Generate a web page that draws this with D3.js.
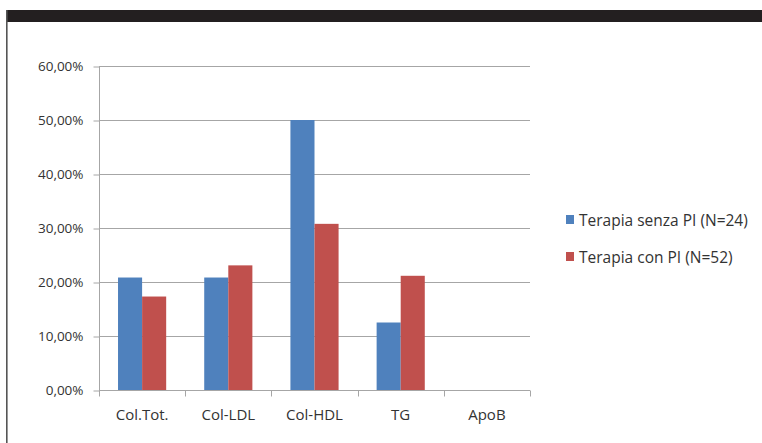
<!DOCTYPE html>
<html>
<head>
<meta charset="utf-8">
<script src="https://cdn.jsdelivr.net/npm/d3@7"></script>
<style>
  html, body { margin: 0; padding: 0; background: #fff; }
  svg { display: block; }
  text { font-family: "Open Sans", "Liberation Sans", sans-serif; fill: #333; }
</style>
</head>
<body>
<svg id="chart" width="762" height="443"></svg>
<script>
// Percentuali di pazienti con valori alterati, per parametro lipidico
const categories = ["Col.Tot.", "Col-LDL", "Col-HDL", "TG", "ApoB"];
const seriesNames = ["Terapia senza PI (N=24)", "Terapia con PI (N=52)"];
const senzaPI = [20.83, 20.83, 50.0, 12.5, 0];
const conPI = [17.31, 23.08, 30.77, 21.15, 0];
const yTicks = [0, 10, 20, 30, 40, 50, 60];
const colors = ["#4f81bd", "#c0504d"];

const svg = d3.select("#chart");

// frame: dark band on top, thin rule on the left
svg.append("rect").attr("x", 6).attr("y", 10).attr("width", 756).attr("height", 12).attr("fill", "#231f20");
svg.append("rect").attr("x", 6).attr("y", 10).attr("width", 1.6).attr("height", 433).attr("fill", "#555");

const plot = { left: 99, right: 530, top: 66, bottom: 390 };

const x = d3.scaleBand().domain(categories).range([plot.left, plot.right]).paddingInner(0).paddingOuter(0);
const y = d3.scaleLinear().domain([0, 60]).range([plot.bottom, plot.top]);

const fmt = v => d3.format(".2f")(v).replace(".", ",") + "%";

// horizontal gridlines
svg.append("g").selectAll("line").data(yTicks.filter(t => t > 0)).join("line")
  .attr("x1", plot.left).attr("x2", plot.right)
  .attr("y1", d => y(d) + 0.5).attr("y2", d => y(d) + 0.5)
  .attr("stroke", "#a6a6a6").attr("stroke-width", 1);

// bars
const sub = d3.scaleBand().domain([0, 1]).range([0, x.bandwidth()]).paddingInner(0).paddingOuter(0.79);
const data = [senzaPI, conPI];
data.forEach((vals, si) => {
  svg.append("g").selectAll("rect").data(vals).join("rect")
    .attr("x", (d, i) => x(categories[i]) + sub(si))
    .attr("width", sub.bandwidth())
    .attr("y", d => y(d))
    .attr("height", d => y(0) - y(d))
    .attr("fill", colors[si]);
});

// y axis
const yAxis = d3.axisLeft(y).tickValues(yTicks).tickFormat(fmt).tickSize(6).tickPadding(10);
const gy = svg.append("g").attr("transform", `translate(${plot.left + 0.5},0.5)`).call(yAxis);
gy.select(".domain").attr("stroke", "#a6a6a6").attr("d", `M0,${plot.top}V${plot.bottom}`);
gy.selectAll(".tick line").attr("stroke", "#a6a6a6");
gy.selectAll(".tick text").attr("font-size", 13.5).attr("fill", "#333")
  .attr("font-family", "Open Sans, sans-serif");

// x axis
const gx = svg.append("g").attr("transform", `translate(0,${plot.bottom + 0.5})`);
gx.append("line").attr("x1", plot.left).attr("x2", plot.right).attr("stroke", "#a6a6a6");
const bounds = categories.map(c => x(c)).concat([plot.right]);
gx.selectAll("line.tk").data(bounds).join("line").attr("class", "tk")
  .attr("x1", d => Math.round(d) + 0.5).attr("x2", d => Math.round(d) + 0.5)
  .attr("y1", 0).attr("y2", 6).attr("stroke", "#a6a6a6");
gx.selectAll("text").data(categories).join("text")
  .attr("x", d => x(d) + x.bandwidth() / 2).attr("y", 29)
  .attr("text-anchor", "middle").attr("font-size", 15).text(d => d);

// legend
const lg = svg.append("g").attr("transform", "translate(566,213)");
seriesNames.forEach((name, i) => {
  const row = lg.append("g").attr("transform", `translate(0,${i * 37})`);
  row.append("rect").attr("width", 8).attr("height", 9).attr("y", 2).attr("fill", colors[i]);
  row.append("text").attr("x", 13).attr("y", 13).attr("font-size", 15.5).text(name);
});
</script>
</body>
</html>
